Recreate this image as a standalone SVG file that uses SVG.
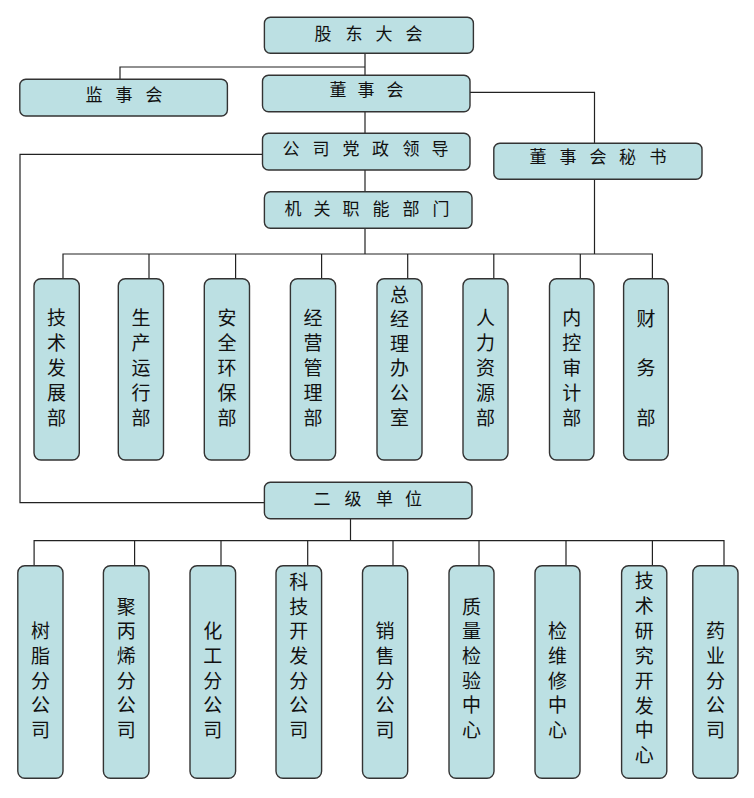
<svg xmlns="http://www.w3.org/2000/svg" width="754" height="798" viewBox="0 0 754 798">
<style>
.box{fill:#BCE0E3;stroke:#333;stroke-width:1.4}
.ln{fill:none;stroke:#222;stroke-width:1.2}
.t{font-family:"Noto Sans CJK SC","Noto Sans",sans-serif;font-size:17px;fill:#111;text-anchor:middle}
.v{font-family:"Noto Sans CJK SC","Noto Sans",sans-serif;font-size:19px;fill:#111;text-anchor:middle}
</style>
<rect width="754" height="798" fill="#fff"/>
<g id="connectors">
<path class="ln" d="M365,53.5 V75.5 M120,79.5 V67 H365"/>
<path class="ln" d="M470,92.3 H594.5 V143.3"/>
<path class="ln" d="M365,111.7 V133.3"/>
<path class="ln" d="M365,170 V191.7"/>
<path class="ln" d="M262.5,154.3 H20 V502.7 H264.4"/>
<path class="ln" d="M365,228.3 V254 M594.5,179.3 V254"/>
<path class="ln" d="M63,278.7 V254 H652.4 V278.7 M149,254 V278.7 M235.6,254 V278.7 M321.6,254 V278.7 M407.7,254 V278.7 M493.8,254 V278.7 M580.3,254 V278.7"/>
<path class="ln" d="M350.5,518.7 V540.7"/>
<path class="ln" d="M34.1,565.7 V540.7 H724 V565.7 M134.6,540.7 V565.7 M221,540.7 V565.7 M307.7,540.7 V565.7 M393,540.7 V565.7 M479,540.7 V565.7 M566,540.7 V565.7 M652.4,540.7 V565.7"/>
</g>
<g id="gudongdahui"><rect class="box" x="264.4" y="17.3" width="209" height="36" rx="6"/><text class="t" x="323 354 384 414" y="39.5">股东大会</text></g>
<g id="jianshihui"><rect class="box" x="19.8" y="79.3" width="207.6" height="36.7" rx="6"/><text class="t" x="94 124 154" y="100.5">监事会</text></g>
<g id="dongshihui"><rect class="box" x="262.5" y="75.3" width="207.5" height="36.4" rx="6"/><text class="t" x="338 366 395" y="96">董事会</text></g>
<g id="dongshihuimishu"><rect class="box" x="493.8" y="143.3" width="208.2" height="36" rx="6"/><text class="t" x="538 568 598 627.5 658" y="163">董事会秘书</text></g>
<g id="dangzhenglingdao"><rect class="box" x="262.5" y="133.3" width="207.5" height="36.7" rx="6"/><text class="t" x="291 321 351 380.5 411 440" y="154.5">公司党政领导</text></g>
<g id="jiguanbumen"><rect class="box" x="264.4" y="191.7" width="207.6" height="36.6" rx="6"/><text class="t" x="293 322 351 381 411 441" y="214.5">机关职能部门</text></g>
<g id="jishufazhanbu"><rect class="box" x="34" y="278.7" width="45.3" height="181.3" rx="7"/><text class="v" x="56.6 56.6 56.6 56.6 56.6" y="324.8 349.8 374.8 399.8 424.8">技术发展部</text></g>
<g id="shengchanyunxingbu"><rect class="box" x="118.3" y="278.7" width="45.2" height="181.3" rx="7"/><text class="v" x="140.9 140.9 140.9 140.9 140.9" y="324.8 349.8 374.8 399.8 424.8">生产运行部</text></g>
<g id="anquanhuanbaobu"><rect class="box" x="204.3" y="278.7" width="45.2" height="181.3" rx="7"/><text class="v" x="226.9 226.9 226.9 226.9 226.9" y="324.8 349.8 374.8 399.8 424.8">安全环保部</text></g>
<g id="jingyingguanlibu"><rect class="box" x="290.4" y="278.7" width="45.2" height="181.3" rx="7"/><text class="v" x="313 313 313 313 313" y="324.8 349.8 374.8 399.8 424.8">经营管理部</text></g>
<g id="zongjinglibangongshi"><rect class="box" x="377" y="278.7" width="45" height="181.3" rx="7"/><text class="v" x="399.5 399.5 399.5 399.5 399.5 399.5" y="301.5 326 350.5 375 400 424.5">总经理办公室</text></g>
<g id="renliziyuanbu"><rect class="box" x="463" y="278.7" width="45" height="181.3" rx="7"/><text class="v" x="485.5 485.5 485.5 485.5 485.5" y="324.8 349.8 374.8 399.8 424.8">人力资源部</text></g>
<g id="neikongshenjibu"><rect class="box" x="549.5" y="278.7" width="44.5" height="181.3" rx="7"/><text class="v" x="571.8 571.8 571.8 571.8 571.8" y="324.8 349.8 374.8 399.8 424.8">内控审计部</text></g>
<g id="caiwubu"><rect class="box" x="623.6" y="278.7" width="44.7" height="181.3" rx="7"/><text class="v" x="646 646 646" y="325.5 375 424.5">财务部</text></g>
<g id="erjidanwei"><rect class="box" x="264.4" y="482.3" width="207.6" height="36.4" rx="6"/><text class="t" x="322 353 384.6 413.5" y="504.5">二级单位</text></g>
<g id="shuzhi"><rect class="box" x="17.8" y="565.7" width="45.2" height="212.6" rx="7"/><text class="v" x="40.4 40.4 40.4 40.4 40.4" y="638.2 662.8 687.5 712.1 736.7">树脂分公司</text></g>
<g id="jubingxi"><rect class="box" x="103.4" y="565.7" width="45.6" height="212.6" rx="7"/><text class="v" x="126.2 126.2 126.2 126.2 126.2 126.2" y="613.6 638.2 662.8 687.5 712.1 736.7">聚丙烯分公司</text></g>
<g id="huagong"><rect class="box" x="190" y="565.7" width="45.6" height="212.6" rx="7"/><text class="v" x="212.8 212.8 212.8 212.8 212.8" y="638.2 662.8 687.5 712.1 736.7">化工分公司</text></g>
<g id="kejikaifa"><rect class="box" x="276" y="565.7" width="45.6" height="212.6" rx="7"/><text class="v" x="298.8 298.8 298.8 298.8 298.8 298.8 298.8" y="589 613.6 638.2 662.8 687.5 712.1 736.7">科技开发分公司</text></g>
<g id="xiaoshou"><rect class="box" x="362.5" y="565.7" width="45.2" height="212.6" rx="7"/><text class="v" x="385.1 385.1 385.1 385.1 385.1" y="638.2 662.8 687.5 712.1 736.7">销售分公司</text></g>
<g id="zhiliangjianyan"><rect class="box" x="449" y="565.7" width="45" height="212.6" rx="7"/><text class="v" x="471.5 471.5 471.5 471.5 471.5 471.5" y="613.6 638.2 662.8 687.5 712.1 736.7">质量检验中心</text></g>
<g id="jianweixiu"><rect class="box" x="535" y="565.7" width="45" height="212.6" rx="7"/><text class="v" x="557.5 557.5 557.5 557.5 557.5" y="638.2 662.8 687.5 712.1 736.7">检维修中心</text></g>
<g id="jishuyanjiu"><rect class="box" x="621.6" y="565.7" width="45.2" height="212.6" rx="7"/><text class="v" x="644.2 644.2 644.2 644.2 644.2 644.2 644.2 644.2" y="588.2 613 637.9 662.8 687.6 712.5 737.4 762.2">技术研究开发中心</text></g>
<g id="yaoye"><rect class="box" x="692.8" y="565.7" width="45.2" height="212.6" rx="7"/><text class="v" x="715.4 715.4 715.4 715.4 715.4" y="638.2 662.8 687.5 712.1 736.7">药业分公司</text></g>
</svg>
